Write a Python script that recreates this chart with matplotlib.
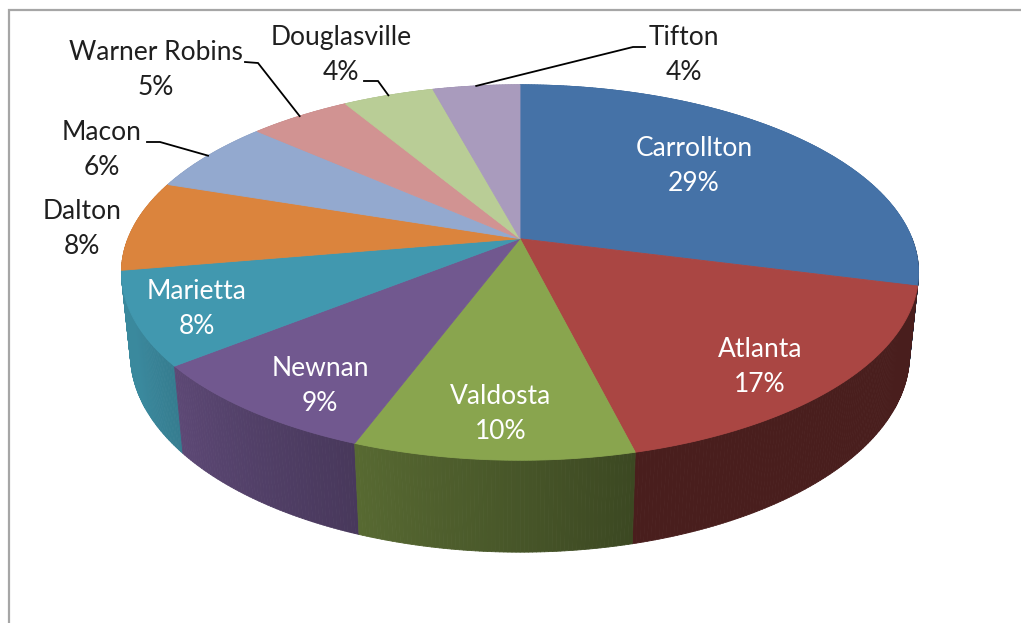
import matplotlib
matplotlib.use("Agg")
import matplotlib.pyplot as plt
import numpy as np
from matplotlib.collections import PolyCollection
from matplotlib.patches import Polygon
from matplotlib.colors import to_rgb

# data (percent share by city, clockwise from 12 o'clock)
cities = ["Carrollton", "Atlanta", "Valdosta", "Newnan", "Marietta",
          "Dalton", "Macon", "Warner Robins", "Douglasville", "Tifton"]
shares = [29.0, 17.1, 9.6, 8.6, 8.0, 7.8, 6.4, 4.9, 4.4, 4.2]
colors = ["#4572A7", "#AA4643", "#89A54E", "#71588F", "#4198AF",
          "#DB843D", "#93A9CF", "#D19392", "#B9CD96", "#A99BBD"]

# label layout (pixel centres of the two-line labels)
label_pos = [(694, 166), (760, 367), (501, 414), (320, 386), (197, 309),
             (82, 229), (102, 150), (156, 70), (341, 55), (684, 55)]
inside = [True, True, True, True, True, False, False, False, False, False]
leaders = {"Macon": [(160, 142), (147, 142)],
           "Warner Robins": [(258, 63), (245, 62)],
           "Douglasville": [(378, 81), (364, 81)],
           "Tifton": [(633, 47), (645, 47)]}

# simple perspective camera for the 3-D pie (pixel space)
CX, CY = 520.0, 238.7
F, DIST = 1929.0, 4.92
PHI = np.radians(27.6)
H = 0.237


def project(theta, r=1.0, z=0.0):
    x = r * np.cos(theta)
    y = r * np.sin(theta)
    depth = DIST + y * np.cos(PHI) - z * np.sin(PHI)
    sx = CX + F * x / depth
    sy = CY - F * (y * np.sin(PHI) + z * np.cos(PHI)) / depth
    return sx, sy


def side_factor(theta):
    t = np.degrees(np.arctan2(np.sin(theta), np.cos(theta)))
    if t > 0:
        return 0.9
    return 0.43 + 0.47 * np.clip((-t - 75) / 80, 0, 1)


fig = plt.figure(figsize=(10.21, 6.23), dpi=100)
ax = fig.add_axes([0, 0, 1, 1])
ax.set_xlim(0, 1021)
ax.set_ylim(623, 0)
ax.axis("off")

# chart frame (top and left edges visible)
ax.plot([8.5, 8.5, 1021], [623, 10, 10], color="#a6a6a6", lw=1.6,
        solid_joinstyle="miter")

fr = np.array(shares) / sum(shares)
starts = np.concatenate([[0], np.cumsum(fr)[:-1]])
ends = np.cumsum(fr)


def ang(p):
    return np.radians(90 - 360 * p)


# side walls: thin quads, drawn far to near
quads, qcols, keys = [], [], []
for s, e, c in zip(starts, ends, colors):
    n = max(int((e - s) * 720), 2)
    ts = np.linspace(ang(s), ang(e), n + 1)
    base = np.array(to_rgb(c))
    for t1, t2 in zip(ts[:-1], ts[1:]):
        a = project(t1)
        b = project(t2)
        bb = project(t2, z=-H)
        ab = project(t1, z=-H)
        quads.append([a, b, bb, ab])
        tm = 0.5 * (t1 + t2)
        qcols.append(np.clip(base * side_factor(tm), 0, 1))
        keys.append(np.sin(tm))
order = np.argsort(keys)[::-1]
pc = PolyCollection([quads[i] for i in order],
                    facecolors=[qcols[i] for i in order],
                    edgecolors=[qcols[i] for i in order], linewidths=0.6)
ax.add_collection(pc)

# top faces
apex = project(0.0, r=0.0)
for s, e, c in zip(starts, ends, colors):
    ts = np.linspace(ang(s), ang(e), max(int((e - s) * 720), 2) + 1)
    pts = [apex] + [project(t) for t in ts]
    ax.add_patch(Polygon(pts, closed=True, facecolor=c, edgecolor=c, lw=0.6))

# labels
font = "Lato"
for i, name in enumerate(cities):
    x, y = label_pos[i]
    col = "white" if inside[i] else "#1f1f1f"
    pct = f"{round(shares[i])}%"
    ax.text(x, y - 17.5, name, ha="center", va="center", color=col,
            fontsize=19, family=font)
    ax.text(x, y + 17.5, pct, ha="center", va="center", color=col,
            fontsize=19, family=font)
    if name in leaders:
        mid = 0.5 * (starts[i] + ends[i])
        anchor = project(ang(mid))
        pts = [anchor] + leaders[name]
        ax.plot([p[0] for p in pts], [p[1] for p in pts], color="black",
                lw=1.3, solid_joinstyle="miter")

fig.savefig("out.png", dpi=100)
